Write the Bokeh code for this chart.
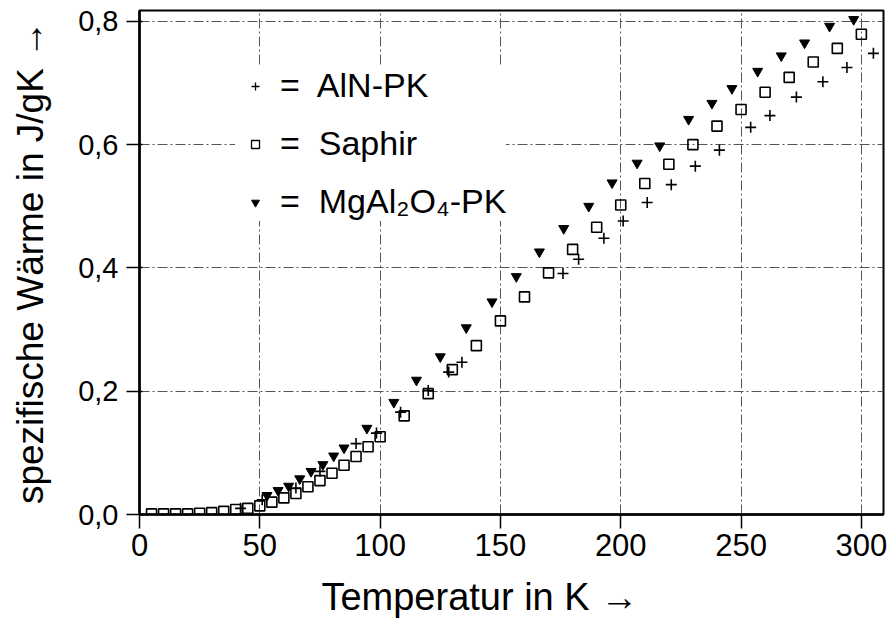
from bokeh.plotting import figure
from bokeh.models import (ColumnDataSource, FixedTicker, Range1d, Legend, LegendItem)
from bokeh.embed import file_html
from bokeh.resources import INLINE

# ---- data ----
saphir_T = [5, 10, 15, 20, 25, 30, 35, 40, 45, 50, 55, 60, 65, 70, 75, 80, 85, 90, 95, 100,
            110, 120, 130, 140, 150, 160, 170, 180, 190, 200, 210, 220, 230, 240, 250,
            260, 270, 280, 290, 300]
saphir_cp = [0.001, 0.001, 0.001, 0.001, 0.002, 0.003, 0.005, 0.008, 0.010, 0.014, 0.020,
             0.027, 0.034, 0.045, 0.055, 0.067, 0.080, 0.094, 0.110, 0.126,
             0.160, 0.196, 0.235, 0.274, 0.314, 0.353, 0.392, 0.430, 0.466, 0.502, 0.537,
             0.568, 0.600, 0.630, 0.657, 0.685, 0.709, 0.734, 0.756, 0.779]

aln_T = [42, 51, 65, 75, 90, 98.5, 108.5, 120, 128.5, 134, 176, 182.5, 193, 201, 211, 221,
         231, 241, 254, 262, 273, 284, 294, 305]
aln_cp = [0.010, 0.024, 0.043, 0.070, 0.115, 0.132, 0.166, 0.201, 0.231, 0.247, 0.391, 0.414,
          0.448, 0.476, 0.506, 0.535, 0.565, 0.591, 0.628, 0.647, 0.677, 0.702, 0.725, 0.748]

mg_T = [53, 57.6, 62, 66.6, 71.3, 76.2, 80.7, 85, 94.5, 105.7, 115.1, 125, 135.8, 146.5,
        156.6, 166.2, 176.3, 186.7, 196.4, 206.8, 216.2, 228.2, 237.9, 246.2, 256.9, 266.7,
        276.4, 286.8, 296.8]
mg_cp = [0.031, 0.039, 0.046, 0.058, 0.070, 0.081, 0.095, 0.108, 0.140, 0.182, 0.218, 0.256,
         0.303, 0.345, 0.386, 0.426, 0.464, 0.500, 0.538, 0.570, 0.598, 0.641, 0.667, 0.691,
         0.719, 0.744, 0.765, 0.792, 0.803]

x_ticks = [0, 50, 100, 150, 200, 250, 300]
y_ticks = [0.0, 0.2, 0.4, 0.6, 0.8]
y_tick_labels = ["0,0", "0,2", "0,4", "0,6", "0,8"]
legend_labels = ["=  AlN-PK", "=  Saphir", "=  MgAl\u2082O\u2084-PK"]

FONT = "Liberation Sans"
NBSP = "\u00a0"

p = figure(width=890, height=621, output_backend="svg", toolbar_location=None,
           x_range=Range1d(0, 309.2), y_range=Range1d(0, 0.8175),
           min_border_left=139, min_border_right=7, min_border_top=10, min_border_bottom=107)
p.background_fill_color = "white"
p.border_fill_color = "white"
p.outline_line_color = "black"
p.outline_line_width = 2

# grid
p.xgrid.ticker = FixedTicker(ticks=x_ticks[1:])
p.ygrid.ticker = FixedTicker(ticks=y_ticks[1:])
for g in (p.xgrid, p.ygrid):
    g.grid_line_color = "#555555"
    g.grid_line_width = 1
    g.grid_line_dash = "10 3 2 3"

# axes
p.xaxis.ticker = FixedTicker(ticks=x_ticks)
p.yaxis.ticker = FixedTicker(ticks=y_ticks)
p.yaxis.major_label_overrides = {t: l for t, l in zip(y_ticks, y_tick_labels)}
for ax in (p.xaxis, p.yaxis):
    ax.axis_line_color = "black"
    ax.axis_line_width = 2.5
    ax.major_tick_line_color = "black"
    ax.major_tick_line_width = 1.5
    ax.minor_tick_line_color = None
    ax.major_label_text_font = FONT
    ax.major_label_text_color = "black"
    ax.axis_label_text_font = FONT
    ax.axis_label_text_font_style = "normal"
    ax.axis_label_text_color = "black"
p.xaxis.major_tick_out = 14
p.xaxis.major_tick_in = 0
p.yaxis.major_tick_out = 13
p.yaxis.major_tick_in = 3
p.xaxis.major_label_text_font_size = "31px"
p.yaxis.major_label_text_font_size = "29px"
p.xaxis.major_label_standoff = 5
p.yaxis.major_label_standoff = 8
p.xaxis.axis_label = "Temperatur in K \u2192" + NBSP * 6
p.yaxis.axis_label = "spezifische W\u00e4rme in J/gK \u2192"
p.xaxis.axis_label_text_font_size = "38px"
p.yaxis.axis_label_text_font_size = "37px"
p.xaxis.axis_label_standoff = 17
p.yaxis.axis_label_standoff = 24

# data marks
p.scatter(saphir_T, saphir_cp, marker="square", size=10, fill_color=None,
          line_color="black", line_width=1.6)
p.scatter(aln_T, aln_cp, marker="cross", size=11, line_color="black", line_width=1.6)
p.scatter(mg_T, mg_cp, marker="inverted_triangle", size=10, fill_color="black",
          line_color="black", line_width=1)

# legend glyphs (small markers; sources hold no drawable point)
nan = float("nan")
def legend_src():
    return ColumnDataSource(data=dict(x=[nan], y=[nan]))
r_aln = p.scatter("x", "y", source=legend_src(), marker="cross", size=8,
                  line_color="black", line_width=1.3)
r_sap = p.scatter("x", "y", source=legend_src(), marker="square", size=8, fill_color=None,
                  line_color="black", line_width=1.3)
r_mg = p.scatter("x", "y", source=legend_src(), marker="inverted_triangle", size=8,
                 fill_color="black", line_color="black")

legend = Legend(items=[LegendItem(label=legend_labels[0], renderers=[r_aln]),
                       LegendItem(label=legend_labels[1], renderers=[r_sap]),
                       LegendItem(label=legend_labels[2], renderers=[r_mg])],
                location=(96, 293), orientation="vertical",
                label_text_font=FONT, label_text_font_size="34px", label_text_color="black",
                glyph_width=40, glyph_height=20, label_standoff=5, spacing=19,
                padding=24, margin=0, border_line_color=None,
                background_fill_color="white", background_fill_alpha=1.0)
p.add_layout(legend, "center")

open("out.html", "w").write(file_html(p, INLINE))
